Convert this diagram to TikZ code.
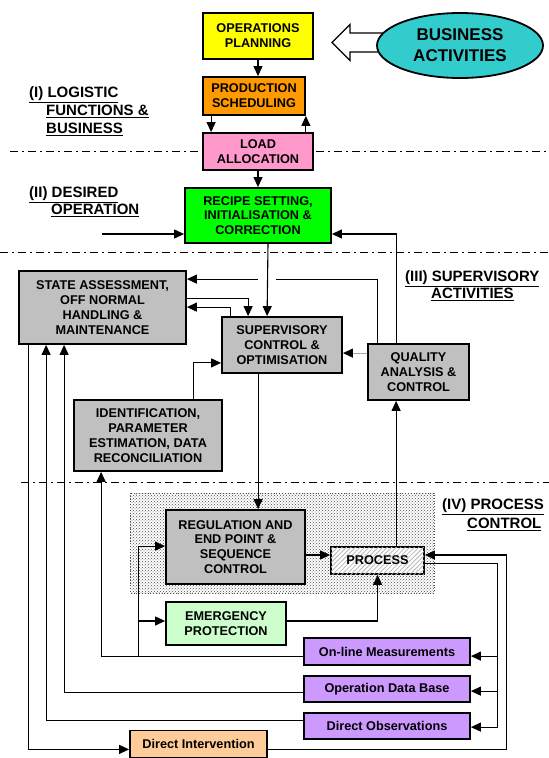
\documentclass[tikz,border=0pt]{standalone}
\usepackage{fontspec}
\setmainfont{Liberation Sans}
\usetikzlibrary{arrows.meta,patterns,patterns.meta,calc,shapes.geometric}
\definecolor{cyel}{HTML}{FFFF00}
\definecolor{corange}{HTML}{FF9900}
\definecolor{cpink}{HTML}{FF99CC}
\definecolor{cgreen}{HTML}{00FF00}
\definecolor{cgray}{HTML}{C0C0C0}
\definecolor{clgreen}{HTML}{CCFFCC}
\definecolor{cpurple}{HTML}{CC99FF}
\definecolor{cpeach}{HTML}{FFCC99}
\definecolor{cteal}{HTML}{33CCCC}
\begin{document}
\begin{tikzpicture}[x=1pt,y=-1pt,
  box/.style={draw,line width=1.8pt,inner sep=0pt,align=center,font=\fontsize{12.7}{14.8}\selectfont\bfseries},
  lbl/.style={anchor=base west,inner sep=0pt,font=\fontsize{15}{18}\selectfont\bfseries},
  conn/.style={line width=1.1pt,-{Triangle[length=10pt,width=9pt,color=black]}},
  plain/.style={line width=1.1pt},
  sect/.style={line width=1pt,dash pattern=on 8pt off 4pt on 2pt off 4pt}]
\useasboundingbox (0,0) rectangle (549,758);

% section separators
\draw[sect] (10,151) -- (549,151);
\draw[sect] (0,252) -- (549,252);
\draw[sect] (21,482) -- (549,482);

% shaded process-control area
\fill[white] (130,493) rectangle (434,593);
\fill[pattern={Dots[distance=3pt,radius=0.5pt]},pattern color=black!70] (130,493) rectangle (434,593);
\fill[pattern={Dots[distance=3pt,radius=0.5pt,xshift=1.5pt,yshift=1.5pt]},pattern color=black!70] (130,493) rectangle (434,593);
\draw[black!70,dotted,line width=0.8pt] (130,493) rectangle (434,593);

% hollow arrow from business activities
\draw[line width=1.2pt,fill=white] (395,33) -- (350,33) -- (350,24.5) -- (332,42.5) -- (350,60.5) -- (350,52) -- (395,52);

% nodes
\node[draw,ellipse,line width=1.8pt,fill=cteal,inner sep=0pt,minimum width=166pt,minimum height=65pt,align=center,font=\fontsize{17}{21}\selectfont\bfseries] (bus) at (460,45.5) {BUSINESS\\ACTIVITIES};
\node[box,fill=cyel,minimum width=110pt,minimum height=46pt] (ops) at (258,36) {OPERATIONS\\PLANNING};
\node[box,fill=corange,minimum width=102pt,minimum height=38pt] (prod) at (254,96) {PRODUCTION\\SCHEDULING};
\node[box,fill=cpink,minimum width=110pt,minimum height=37pt] (load) at (258,151.5) {LOAD\\ALLOCATION};
\node[box,fill=cgreen,minimum width=146pt,minimum height=55pt] (recipe) at (258,215.5) {RECIPE SETTING,\\INITIALISATION \&\\CORRECTION};
\node[box,fill=cgray,minimum width=167pt,minimum height=73pt] (sa) at (102.5,307.5) {STATE ASSESSMENT,\\OFF NORMAL\\HANDLING \&\\MAINTENANCE};
\node[box,fill=cgray,minimum width=120pt,minimum height=56pt] (sup) at (282,345) {SUPERVISORY\\CONTROL \&\\OPTIMISATION};
\node[box,fill=cgray,minimum width=101pt,minimum height=56pt] (qa) at (418.5,372) {QUALITY\\ANALYSIS \&\\CONTROL};
\node[box,fill=cgray,minimum width=148pt,minimum height=71pt] (id) at (148,435.5) {IDENTIFICATION,\\PARAMETER\\ESTIMATION, DATA\\RECONCILIATION};
\node[box,fill=cgray,minimum width=139pt,minimum height=74pt] (reg) at (235.5,547) {REGULATION AND\\END POINT \&\\SEQUENCE\\CONTROL};
\node[box,fill=white,postaction={pattern={Lines[angle=45,distance=3.2pt,line width=0.8pt]},pattern color=gray!55},minimum width=93pt,minimum height=27pt] (proc) at (377.5,560.5) {PROCESS};
\node[box,fill=clgreen,minimum width=120pt,minimum height=43pt] (emerg) at (226,623.5) {EMERGENCY\\PROTECTION};
\node[box,fill=cpurple,minimum width=166pt,minimum height=27pt] (online) at (387,651.5) {On-line Measurements};
\node[box,fill=cpurple,minimum width=166pt,minimum height=26pt] (odb) at (387,689) {Operation Data Base};
\node[box,fill=cpurple,minimum width=166pt,minimum height=26pt] (dobs) at (387,726) {Direct Observations};
\node[box,fill=cpeach,minimum width=137pt,minimum height=27pt] (dint) at (198.5,744) {Direct Intervention};

% section labels
\node[lbl] (l1a) at (29,97.4) {\underline{(I) LOGISTIC}};
\node[lbl] (l1b) at (46,115.4) {\underline{FUNCTIONS \&}};
\node[lbl] (l1c) at (46,133.4) {\underline{BUSINESS}};
\node[lbl] (l2a) at (29,197.4) {\underline{(II) DESIRED}};
\node[lbl] (l2b) at (51,214.4) {\underline{OPERATION}};
\node[lbl] (l3a) at (405,281.4) {\underline{(III) SUPERVISORY}};
\node[lbl] (l3b) at (431,298.4) {\underline{ACTIVITIES}};
\node[lbl] (l4a) at (442,509.4) {\underline{(IV) PROCESS}};
\node[lbl] (l4b) at (467,528.4) {\underline{CONTROL}};

% top chain
\draw[conn] (ops.south) -- (ops.south |- prod.north);
\draw[conn] ($(prod.south west)+(9,0)$) -- ($(load.north west)+(9,0)$);
\draw[conn] ($(load.north east)+(-8,0)$) -- (prod.south east);
\draw[conn] (load.south) -- (load.south |- recipe.north);
\coordinate (inL) at (102,234);
\draw[conn] (inL) -- (inL -| recipe.west);
\draw[conn] ($(qa.north west)+(29,0)$) |- ($(recipe.east)+(0,18.5)$);

% supervisory layer
\draw[conn] ($(recipe.south)+(10,0)$) -- ($(sup.north west)+(46,0)$);
\draw[plain] ($(qa.north west)+(10,0)$) |- ($(sup.north west)+(55,-37)$);
\draw[conn] ($(sup.north west)+(37,-37)$) -- ($(sa.north east)+(0,9)$);
\draw[conn] ($(sa.north east)+(0,28)$) -| ($(sup.north west)+(27,0)$);
\draw[conn] ($(sup.north west)+(9,0)$) |- ($(sa.north east)+(0,37)$);
\draw[conn,gray!70] ($(qa.north west)+(0,10)$) -- ($(sup.north east)+(0,37)$);
\draw[conn] ($(id.north west)+(120,0)$) |- ($(sup.south west)+(0,-11)$);
\draw[conn] ($(sup.south west)+(37,0)$) -- ($(reg.north west)+(93,0)$);

% feedback paths on the left
\draw[conn] ($(sa.south west)+(10,0)$) |- ($(dint.south west)+(0,-9)$);
\draw[conn] ($(dobs.north west)+(0,8)$) -| ($(sa.south west)+(28,0)$);
\draw[conn] ($(odb.north west)+(0,17)$) -| ($(sa.south west)+(46,0)$);
\draw[conn] ($(online.north west)+(0,19)$) -| ($(id.south west)+(28,0)$);
\coordinate (br) at ($(online.north west)+(-165,19)$);
\draw[conn] (br) |- ($(reg.north west)+(0,37)$);
\coordinate (be) at ($(emerg.west)+(0,-2.5)$);
\draw[conn] (be -| br) -- (be);

% process connections
\draw[conn] ($(emerg.east)+(0,-2.5)$) -| ($(proc.south west)+(47.5,0)$);
\coordinate (pl) at ($(proc.west)+(0,-5.5)$);
\draw[conn] (pl -| reg.east) -- (pl);
\draw[conn] ($(proc.north west)+(66,0)$) -- ($(qa.south west)+(29,0)$);
\draw[plain] ($(proc.east)+(0,3)$) -| ($(dobs.north east)+(27,15)$);
\draw[conn] ($(online.north east)+(27,19)$) -- ($(online.north east)+(0,19)$);
\draw[conn] ($(odb.north east)+(27,16)$) -- ($(odb.north east)+(0,16)$);
\draw[conn] ($(dobs.north east)+(27,15)$) -- ($(dobs.north east)+(0,15)$);
\draw[conn] ($(dint.south east)+(0,-9)$) -| ($(dobs.north east)+(36,0)$) |- ($(proc.east)+(0,-5.5)$);
\end{tikzpicture}
\end{document}
